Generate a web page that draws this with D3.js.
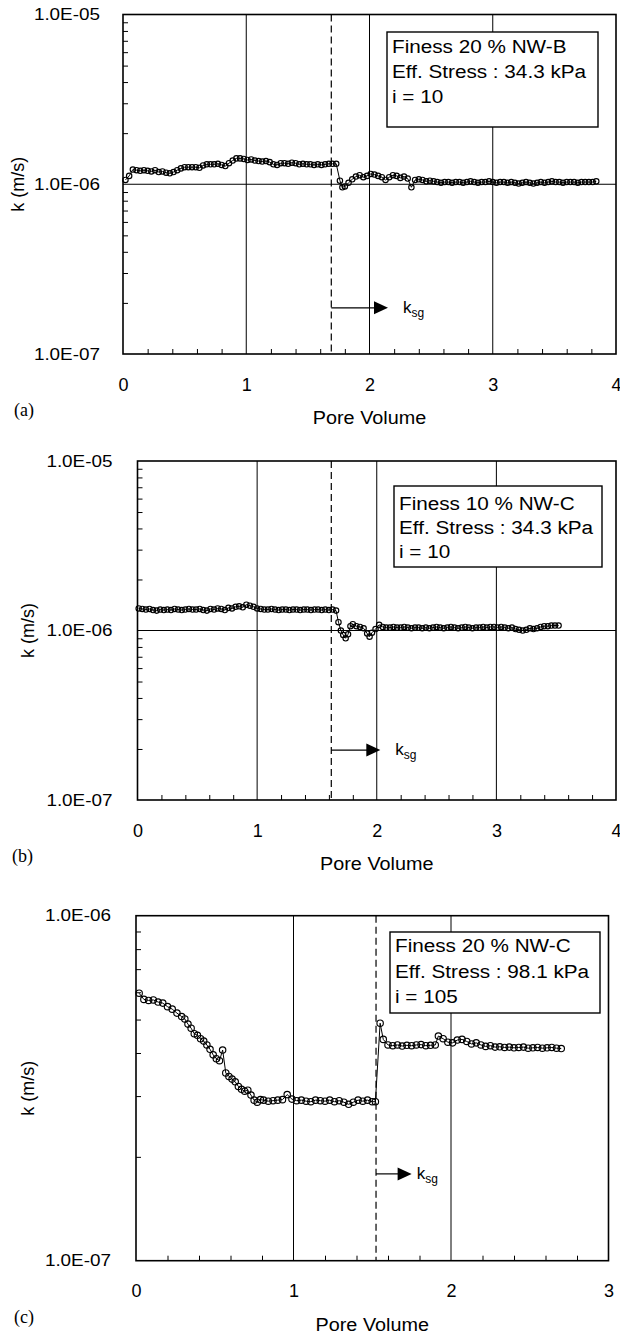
<!DOCTYPE html>
<html>
<head>
<meta charset="utf-8">
<script src="https://cdn.jsdelivr.net/npm/d3@7"></script>
<style>
    body { margin: 0; background: #fff; }
    svg text { font-family: "Liberation Sans", Arial, sans-serif; fill: #000; }
    .tick-y { font-size: 16px; }
    .tick-x { font-size: 18px; }
    .axis-title { font-size: 18px; }
    .legend-text { font-size: 18px; }
    .panel-tag { font-family: "Liberation Serif", "Times New Roman", serif !important; font-size: 18px; }
</style>
</head>
<body>
<svg id="chart" width="620" height="1339"></svg>
<script>
// ---- Data: [pore volume, k]
// panels a and b: k in 1e-6 m/s, panel c: k in 1e-7 m/s
const seriesA = [
    [0.02,1.06],[0.05,1.12],[0.08,1.22],[0.11,1.21],[0.14,1.20],[0.17,1.21],[0.20,1.20],[0.23,1.19],
    [0.26,1.21],[0.29,1.18],[0.32,1.19],[0.35,1.17],[0.38,1.16],[0.41,1.18],[0.44,1.21],[0.47,1.24],
    [0.50,1.26],[0.53,1.26],[0.56,1.26],[0.59,1.26],[0.62,1.25],[0.65,1.29],[0.68,1.31],[0.71,1.31],
    [0.74,1.31],[0.77,1.32],[0.80,1.30],[0.83,1.28],[0.86,1.33],[0.89,1.38],[0.92,1.42],[0.95,1.42],
    [0.98,1.41],[1.01,1.39],[1.04,1.40],[1.07,1.38],[1.10,1.37],[1.13,1.36],[1.16,1.37],[1.19,1.35],
    [1.22,1.31],[1.25,1.30],[1.28,1.33],[1.31,1.33],[1.34,1.32],[1.37,1.34],[1.40,1.33],[1.43,1.31],
    [1.46,1.32],[1.49,1.31],[1.52,1.31],[1.55,1.30],[1.58,1.31],[1.61,1.30],[1.64,1.31],[1.67,1.32],
    [1.70,1.32],[1.73,1.32],[1.76,1.05],[1.78,0.96],[1.80,0.97],[1.83,1.02],[1.86,1.07],[1.89,1.11],
    [1.92,1.13],[1.95,1.10],[1.98,1.12],[2.01,1.15],[2.04,1.14],[2.07,1.12],[2.10,1.10],[2.13,1.06],
    [2.16,1.10],[2.19,1.13],[2.22,1.12],[2.25,1.09],[2.28,1.11],[2.31,1.08],[2.34,0.96],[2.37,1.06],
    [2.40,1.07],[2.43,1.06],[2.46,1.04],[2.49,1.05],[2.52,1.04],[2.55,1.03],[2.58,1.02],[2.61,1.03],
    [2.64,1.03],[2.67,1.02],[2.70,1.03],[2.73,1.03],[2.76,1.02],[2.79,1.03],[2.82,1.04],[2.85,1.03],
    [2.88,1.02],[2.91,1.03],[2.94,1.03],[2.97,1.04],[3.00,1.03],[3.03,1.02],[3.06,1.03],[3.09,1.03],
    [3.12,1.02],[3.15,1.03],[3.18,1.02],[3.21,1.01],[3.24,1.02],[3.27,1.03],[3.30,1.02],[3.33,1.01],
    [3.36,1.02],[3.39,1.03],[3.42,1.02],[3.45,1.03],[3.48,1.04],[3.51,1.03],[3.54,1.03],[3.57,1.02],
    [3.60,1.03],[3.63,1.03],[3.66,1.03],[3.69,1.02],[3.72,1.03],[3.75,1.03],[3.78,1.03],[3.81,1.03],
    [3.84,1.04]
];

const seriesB = [
    [0.01,1.35],[0.04,1.34],[0.07,1.33],[0.10,1.34],[0.13,1.32],[0.16,1.31],[0.19,1.33],[0.22,1.32],
    [0.25,1.33],[0.28,1.32],[0.31,1.34],[0.34,1.33],[0.37,1.32],[0.40,1.33],[0.43,1.34],[0.46,1.33],
    [0.49,1.33],[0.52,1.34],[0.55,1.32],[0.58,1.31],[0.61,1.34],[0.64,1.33],[0.67,1.35],[0.70,1.34],
    [0.73,1.32],[0.76,1.36],[0.79,1.35],[0.82,1.38],[0.85,1.39],[0.88,1.37],[0.91,1.42],[0.94,1.40],
    [0.97,1.38],[1.00,1.35],[1.03,1.34],[1.06,1.33],[1.09,1.33],[1.12,1.34],[1.15,1.33],[1.18,1.32],
    [1.21,1.33],[1.24,1.33],[1.27,1.32],[1.30,1.33],[1.33,1.33],[1.36,1.32],[1.39,1.33],[1.42,1.33],
    [1.45,1.32],[1.48,1.33],[1.51,1.33],[1.54,1.32],[1.57,1.33],[1.60,1.32],[1.63,1.33],[1.66,1.31],
    [1.68,1.12],[1.70,1.00],[1.72,0.94],[1.74,0.90],[1.76,0.95],[1.78,1.06],[1.80,1.09],[1.83,1.06],
    [1.86,1.05],[1.89,1.03],[1.92,0.96],[1.94,0.92],[1.96,0.97],[1.99,1.02],[2.02,1.08],[2.05,1.05],
    [2.08,1.04],[2.11,1.04],[2.14,1.05],[2.17,1.04],[2.20,1.04],[2.23,1.05],[2.26,1.04],[2.29,1.03],
    [2.32,1.04],[2.35,1.04],[2.38,1.03],[2.41,1.04],[2.44,1.03],[2.47,1.04],[2.50,1.05],[2.53,1.04],
    [2.56,1.03],[2.59,1.04],[2.62,1.05],[2.65,1.04],[2.68,1.03],[2.71,1.04],[2.74,1.05],[2.77,1.04],
    [2.80,1.03],[2.83,1.04],[2.86,1.04],[2.89,1.05],[2.92,1.04],[2.95,1.05],[2.98,1.05],[3.01,1.04],
    [3.04,1.05],[3.07,1.04],[3.10,1.03],[3.13,1.04],[3.16,1.02],[3.19,1.01],[3.22,1.00],[3.25,1.01],
    [3.28,1.03],[3.31,1.02],[3.34,1.03],[3.37,1.05],[3.40,1.06],[3.43,1.06],[3.46,1.07],[3.49,1.07],
    [3.52,1.07]
];

const seriesC = [
    [0.02,5.96],[0.05,5.72],[0.08,5.68],[0.11,5.70],[0.14,5.62],[0.17,5.58],[0.20,5.45],[0.23,5.36],
    [0.26,5.22],[0.29,5.10],[0.31,5.02],[0.33,4.85],[0.35,4.72],[0.37,4.55],[0.39,4.50],[0.41,4.40],
    [0.43,4.33],[0.45,4.22],[0.47,4.10],[0.49,3.95],[0.51,3.85],[0.53,3.80],[0.55,4.08],[0.57,3.50],
    [0.59,3.42],[0.61,3.36],[0.63,3.30],[0.65,3.20],[0.67,3.14],[0.69,3.10],[0.71,3.12],[0.73,3.02],
    [0.75,2.92],[0.77,2.88],[0.79,2.93],[0.81,2.92],[0.84,2.90],[0.87,2.91],[0.90,2.92],[0.93,2.93],
    [0.96,3.03],[0.99,2.94],[1.02,2.91],[1.05,2.92],[1.08,2.90],[1.11,2.89],[1.14,2.92],[1.17,2.91],
    [1.20,2.90],[1.23,2.92],[1.26,2.89],[1.29,2.91],[1.32,2.88],[1.35,2.84],[1.38,2.88],[1.41,2.92],
    [1.44,2.90],[1.47,2.92],[1.50,2.89],[1.52,2.89],[1.55,4.88],[1.57,4.38],[1.60,4.22],[1.63,4.20],
    [1.66,4.22],[1.69,4.19],[1.72,4.21],[1.75,4.20],[1.78,4.22],[1.81,4.23],[1.84,4.20],[1.87,4.21],
    [1.90,4.22],[1.92,4.48],[1.95,4.40],[1.98,4.30],[2.01,4.28],[2.04,4.36],[2.07,4.38],[2.10,4.32],
    [2.13,4.25],[2.16,4.28],[2.19,4.22],[2.22,4.18],[2.25,4.20],[2.28,4.16],[2.31,4.17],[2.34,4.15],
    [2.37,4.16],[2.40,4.14],[2.43,4.15],[2.46,4.16],[2.49,4.13],[2.52,4.14],[2.55,4.15],[2.58,4.13],
    [2.61,4.14],[2.64,4.15],[2.67,4.13],[2.70,4.12]
];

// Axis ticks and texts
const decadesAB = [1e-7, 1e-6, 1e-5];
const decadesC = [1e-7, 1e-6];
const xTicksAB = [0, 1, 2, 3, 4];
const xTicksC = [0, 1, 2, 3];
const legendA = ['Finess 20 % NW-B', 'Eff. Stress : 34.3 kPa', 'i = 10'];
const legendB = ['Finess 10 % NW-C', 'Eff. Stress : 34.3 kPa', 'i = 10'];
const legendC = ['Finess 20 % NW-C', 'Eff. Stress : 98.1 kPa', 'i = 105'];
const switchPV = [1.69, 1.62, 1.524];          // dashed line: start of k_sg stage
const arrowTipPV = [2.15, 2.03, 1.75];
const arrowK = [1.87e-7, 1.97e-7, 1.785e-7];
const panelTags = ['(a)', '(b)', '(c)'];

const svg = d3.select('#chart');

// 1.0E-06 style labels
function sciFmt(v) {
    const e = Math.round(Math.log10(v));
    return '1.0E' + (e < 0 ? '-' : '+') + String(Math.abs(e)).padStart(2, '0');
}

// widen text horizontally (the source figure is stretched sideways)
function stretch(sel, sx) {
    sel.each(function() {
        const w = this.getComputedTextLength();
        this.setAttribute('textLength', w * sx);
        this.setAttribute('lengthAdjust', 'spacingAndGlyphs');
    });
}

/**
 * Draw one panel
 */
function drawPanel(cfg) {
    const g = svg.append('g');
    const xMax = cfg.xTicks[cfg.xTicks.length - 1];

    const x = d3.scaleLinear()
        .domain([0, xMax])
        .range([cfg.left, cfg.right]);

    const y = d3.scaleLog()
        .domain([cfg.decades[0], cfg.decades[cfg.decades.length - 1]])
        .range([cfg.bottom, cfg.top]);

    // Gridlines
    g.append('g')
        .selectAll('line')
        .data(cfg.xTicks.slice(1, -1))
        .join('line')
        .attr('x1', d => x(d)).attr('x2', d => x(d))
        .attr('y1', cfg.top).attr('y2', cfg.bottom)
        .attr('stroke', '#000').attr('stroke-width', 1);

    g.append('g')
        .selectAll('line')
        .data(cfg.decades.slice(1, -1))
        .join('line')
        .attr('x1', cfg.left).attr('x2', cfg.right)
        .attr('y1', d => y(d)).attr('y2', d => y(d))
        .attr('stroke', '#000').attr('stroke-width', 1);

    // Minor ticks (inside)
    const minorY = y.ticks().filter(v => cfg.decades.indexOf(v) < 0 &&
        Math.abs(Math.log10(v) - Math.round(Math.log10(v))) > 1e-6);
    g.append('g')
        .attr('transform', `translate(${cfg.left},0)`)
        .call(d3.axisRight(y).tickValues(minorY).tickSize(5).tickFormat(''))
        .call(a => a.select('.domain').remove());

    const minorX = x.ticks(xMax * 5).filter(v => cfg.xTicks.indexOf(v) < 0);
    g.append('g')
        .attr('transform', `translate(0,${cfg.bottom})`)
        .call(d3.axisTop(x).tickValues(minorX).tickSize(5).tickFormat(''))
        .call(a => a.select('.domain').remove());

    // Dashed switch line
    g.append('line')
        .attr('x1', x(cfg.switchPV)).attr('x2', x(cfg.switchPV))
        .attr('y1', cfg.top).attr('y2', cfg.bottom)
        .attr('stroke', '#000').attr('stroke-width', 1.2)
        .attr('stroke-dasharray', '7,4');

    // Data
    const line = d3.line()
        .x(d => x(d[0]))
        .y(d => y(d[1] * cfg.unit));

    g.append('path')
        .attr('d', line(cfg.data))
        .attr('fill', 'none')
        .attr('stroke', '#000')
        .attr('stroke-width', 1);

    g.append('g')
        .selectAll('circle')
        .data(cfg.data)
        .join('circle')
        .attr('cx', d => x(d[0]))
        .attr('cy', d => y(d[1] * cfg.unit))
        .attr('r', cfg.r)
        .attr('fill', 'none')
        .attr('stroke', '#000')
        .attr('stroke-width', 1.15);

    // Frame
    g.append('rect')
        .attr('x', cfg.left).attr('y', cfg.top)
        .attr('width', cfg.right - cfg.left)
        .attr('height', cfg.bottom - cfg.top)
        .attr('fill', 'none')
        .attr('stroke', '#000')
        .attr('stroke-width', 1.6);

    // Tick labels
    const yAxis = g.append('g')
        .attr('transform', `translate(${cfg.left},0)`)
        .call(d3.axisLeft(y).tickValues(cfg.decades).tickSize(0).tickPadding(cfg.yPad).tickFormat(sciFmt));
    yAxis.select('.domain').remove();
    yAxis.attr('font-family', null).attr('font-size', null);
    yAxis.selectAll('text').attr('class', 'tick-y');
    stretch(yAxis.selectAll('text'), 1.18);

    const xAxis = g.append('g')
        .attr('transform', `translate(0,${cfg.bottom})`)
        .call(d3.axisBottom(x).tickValues(cfg.xTicks).tickSize(0).tickPadding(24).tickFormat(d3.format('d')));
    xAxis.select('.domain').remove();
    xAxis.attr('font-family', null).attr('font-size', null);
    xAxis.selectAll('text').attr('class', 'tick-x');

    // Axis titles
    const xt = g.append('text')
        .attr('class', 'axis-title')
        .attr('text-anchor', 'middle')
        .attr('x', (cfg.left + cfg.right) / 2)
        .attr('y', cfg.bottom + 70)
        .text('Pore Volume');
    stretch(xt, 1.1);

    g.append('text')
        .attr('class', 'axis-title')
        .attr('text-anchor', 'middle')
        .attr('transform', `translate(${cfg.kLabelX},${(cfg.top + cfg.bottom) / 2}) rotate(-90)`)
        .text('k (m/s)');

    g.append('text')
        .attr('class', 'panel-tag')
        .attr('x', cfg.tagX)
        .attr('y', cfg.bottom + 62)
        .text(cfg.tag);

    // Legend box
    g.append('rect')
        .attr('x', cfg.legend.x).attr('y', cfg.legend.y)
        .attr('width', cfg.legend.w).attr('height', cfg.legend.h)
        .attr('fill', '#fff')
        .attr('stroke', '#000')
        .attr('stroke-width', 1.4);

    const lt = g.append('g')
        .selectAll('text')
        .data(cfg.legendLines)
        .join('text')
        .attr('class', 'legend-text')
        .attr('x', cfg.legend.x + 5)
        .attr('y', (d, i) => cfg.legend.y + cfg.legend.first + i * cfg.legend.step)
        .text(d => d);
    stretch(lt, 1.15);

    // k_sg arrow
    const ay = y(cfg.arrowK);
    const tip = x(cfg.arrowTip);
    g.append('line')
        .attr('x1', x(cfg.switchPV)).attr('x2', tip - 12)
        .attr('y1', ay).attr('y2', ay)
        .attr('stroke', '#000').attr('stroke-width', 1.2);
    g.append('path')
        .attr('d', `M${tip},${ay} L${tip - 14},${ay - 6.5} L${tip - 14},${ay + 6.5} Z`)
        .attr('fill', '#000');

    const ks = g.append('text')
        .attr('x', tip + cfg.ksgGap)
        .attr('y', ay + 5)
        .style('font-size', '17px');
    ks.append('tspan').text('k');
    ks.append('tspan')
        .attr('dy', 4)
        .style('font-size', '12px')
        .text('sg');
}

drawPanel({
    left: 123, right: 616, top: 14.5, bottom: 354,
    xTicks: xTicksAB, decades: decadesAB, unit: 1e-6, r: 2.7,
    data: seriesA, switchPV: switchPV[0],
    arrowTip: arrowTipPV[0], arrowK: arrowK[0], ksgGap: 15,
    yPad: 23, kLabelX: 24, tagX: 14, tag: panelTags[0],
    legend: {x: 387, y: 32, w: 211, h: 95, first: 21, step: 25},
    legendLines: legendA
});

drawPanel({
    left: 137.5, right: 616, top: 461, bottom: 800,
    xTicks: xTicksAB, decades: decadesAB, unit: 1e-6, r: 2.7,
    data: seriesB, switchPV: switchPV[1],
    arrowTip: arrowTipPV[1], arrowK: arrowK[1], ksgGap: 15,
    yPad: 25, kLabelX: 34, tagX: 12, tag: panelTags[1],
    legend: {x: 394, y: 486, w: 208, h: 81, first: 24, step: 24},
    legendLines: legendB
});

drawPanel({
    left: 136, right: 608.5, top: 915.7, bottom: 1260.7,
    xTicks: xTicksC, decades: decadesC, unit: 1e-7, r: 3.2,
    data: seriesC, switchPV: switchPV[2],
    arrowTip: arrowTipPV[2], arrowK: arrowK[2], ksgGap: 5,
    yPad: 25, kLabelX: 34, tagX: 14, tag: panelTags[2],
    legend: {x: 390, y: 932, w: 210, h: 81, first: 20, step: 25.5},
    legendLines: legendC
});
</script>
</body>
</html>
